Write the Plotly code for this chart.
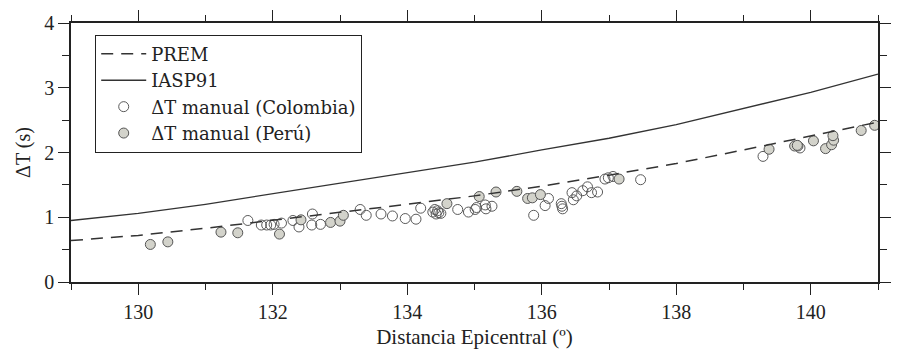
import plotly.graph_objects as go

# Model curves
model_x = [129, 130, 131, 132, 133, 134, 135, 136, 137, 138, 139, 140, 141]
prem_y = [0.64, 0.72, 0.83, 0.95, 1.07, 1.20, 1.33, 1.48, 1.65, 1.83, 2.04, 2.25, 2.47]
iasp_y = [0.95, 1.06, 1.20, 1.36, 1.52, 1.68, 1.85, 2.04, 2.22, 2.43, 2.68, 2.93, 3.21]

# Manual picks - Colombia
col_x = [131.63, 131.83, 131.91, 131.97, 132.02, 132.13, 132.30, 132.39, 132.59, 132.58,
         132.71, 133.30, 133.39, 133.61, 133.78, 133.97, 134.13, 134.20, 134.38, 134.41,
         134.43, 134.45, 134.47, 134.50, 134.75, 134.91, 135.01, 135.03, 135.16, 135.17,
         135.26, 135.88, 136.05, 136.10, 136.29, 136.30, 136.31, 136.45, 136.47, 136.52,
         136.61, 136.68, 136.74, 136.83, 136.94, 136.99, 137.06, 137.47, 139.29, 139.81,
         139.84]
col_y = [0.95, 0.88, 0.88, 0.88, 0.89, 0.91, 0.95, 0.85, 1.05, 0.88,
         0.89, 1.12, 1.03, 1.05, 1.02, 0.98, 0.97, 1.14, 1.08, 1.12,
         1.05, 1.10, 1.07, 1.06, 1.12, 1.08, 1.12, 1.15, 1.19, 1.13,
         1.17, 1.03, 1.18, 1.29, 1.21, 1.17, 1.13, 1.38, 1.27, 1.33,
         1.41, 1.47, 1.38, 1.39, 1.59, 1.61, 1.63, 1.58, 1.94, 2.10,
         2.07]

# Manual picks - Peru
per_x = [130.18, 130.44, 131.23, 131.48, 132.10, 132.42, 132.86, 133.00, 133.05, 134.59,
         135.07, 135.32, 135.63, 135.79, 135.86, 135.98, 137.15, 139.38, 139.76, 139.80,
         140.04, 140.22, 140.31, 140.34, 140.33, 140.75, 140.95]
per_y = [0.58, 0.62, 0.77, 0.76, 0.74, 0.96, 0.92, 0.94, 1.03, 1.21,
         1.32, 1.39, 1.40, 1.29, 1.30, 1.35, 1.59, 2.05, 2.10, 2.11,
         2.18, 2.06, 2.12, 2.19, 2.26, 2.34, 2.42]

SERIF = "Liberation Serif"
LEG = "DejaVu Serif"

fig = go.Figure()
fig.add_trace(go.Scatter(x=col_x, y=col_y, mode="markers", name="ΔT manual (Colombia)",
                         marker=dict(symbol="circle-open", size=10, color="#5a5a5a",
                                     line=dict(width=1, color="#5a5a5a")),
                         legendrank=3))
fig.add_trace(go.Scatter(x=per_x, y=per_y, mode="markers", name="ΔT manual (Perú)",
                         marker=dict(symbol="circle", size=10, color="#d3d3cb",
                                     line=dict(width=1, color="#555555")),
                         legendrank=4))
fig.add_trace(go.Scatter(x=model_x, y=prem_y, mode="lines", name="PREM",
                         line=dict(color="#333333", width=1.5, dash="12px,8px"),
                         legendrank=1))
fig.add_trace(go.Scatter(x=model_x, y=iasp_y, mode="lines", name="IASP91",
                         line=dict(color="#333333", width=1.3),
                         legendrank=2))

axis_common = dict(showline=True, linecolor="#222222", linewidth=1.5, mirror="ticks",
                   ticks="outside", tickcolor="#222222", tickwidth=1.2, showgrid=False,
                   zeroline=False, tickfont=dict(family=SERIF, size=20, color="#222222"))

fig.update_xaxes(range=[129, 141], tick0=130, dtick=2, ticklen=11,
                 minor=dict(dtick=1, ticklen=6, tickcolor="#222222", ticks="outside", showgrid=False),
                 title=dict(text="Distancia Epicentral (º)", font=dict(family=SERIF, size=21, color="#222222"),
                            standoff=8),
                 **axis_common)
fig.update_yaxes(range=[0, 4], tick0=0, dtick=1, ticklen=11,
                 minor=dict(dtick=0.5, ticklen=7, tickcolor="#222222", ticks="outside", showgrid=False),
                 title=dict(text="ΔT (s)", font=dict(family=SERIF, size=20, color="#222222"), standoff=8),
                 **axis_common)

fig.update_layout(
    width=901, height=357,
    margin=dict(l=71, r=10, t=18, b=75),
    plot_bgcolor="white", paper_bgcolor="white",
    showlegend=True,
    legend=dict(x=0.03, y=0.955, xanchor="left", yanchor="top",
                bordercolor="#222222", borderwidth=1, bgcolor="white",
                font=dict(family=LEG, size=18, color="#222222"),
                itemwidth=45,
                traceorder="normal", tracegroupgap=0),
)

fig.write_html("out.html")
